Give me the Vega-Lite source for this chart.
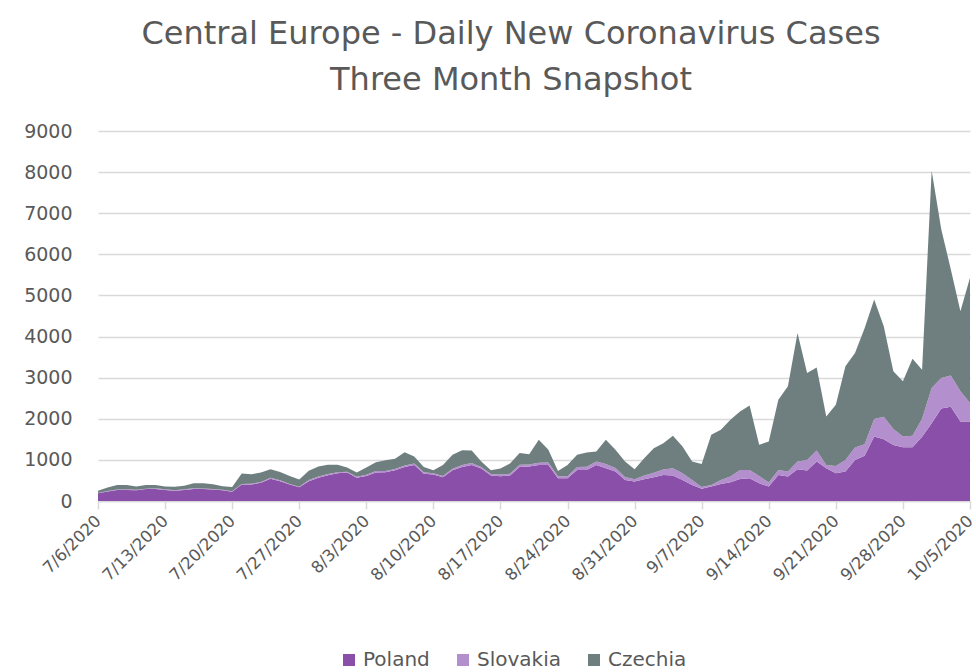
{
  "$schema": "https://vega.github.io/schema/vega-lite/v6.json",
  "width": 872,
  "height": 370,
  "autosize": {"type": "none"},
  "padding": {"left": 98, "top": 131, "right": 6, "bottom": 171},
  "background": "white",
  "title": {
    "text": ["Central Europe - Daily New Coronavirus Cases", "Three Month Snapshot"],
    "font": "DejaVu Sans",
    "fontSize": 32,
    "fontWeight": "normal",
    "color": "#595959",
    "lineHeight": 46,
    "anchor": "middle",
    "frame": "group",
    "baseline": "bottom",
    "dx": -23,
    "offset": -7
  },
  "data": {
    "values": [
      {"d": "2020-07-06", "Poland": 187, "Slovakia": 10, "Czechia": 55},
      {"d": "2020-07-07", "Poland": 230, "Slovakia": 15, "Czechia": 85},
      {"d": "2020-07-08", "Poland": 268, "Slovakia": 10, "Czechia": 112},
      {"d": "2020-07-09", "Poland": 268, "Slovakia": 20, "Czechia": 102},
      {"d": "2020-07-10", "Poland": 260, "Slovakia": 15, "Czechia": 75},
      {"d": "2020-07-11", "Poland": 290, "Slovakia": 10, "Czechia": 90},
      {"d": "2020-07-12", "Poland": 290, "Slovakia": 20, "Czechia": 80},
      {"d": "2020-07-13", "Poland": 270, "Slovakia": 15, "Czechia": 65},
      {"d": "2020-07-14", "Poland": 250, "Slovakia": 10, "Czechia": 85},
      {"d": "2020-07-15", "Poland": 270, "Slovakia": 15, "Czechia": 85},
      {"d": "2020-07-16", "Poland": 290, "Slovakia": 20, "Czechia": 121},
      {"d": "2020-07-17", "Poland": 290, "Slovakia": 15, "Czechia": 126},
      {"d": "2020-07-18", "Poland": 280, "Slovakia": 10, "Czechia": 120},
      {"d": "2020-07-19", "Poland": 260, "Slovakia": 15, "Czechia": 85},
      {"d": "2020-07-20", "Poland": 228, "Slovakia": 10, "Czechia": 102},
      {"d": "2020-07-21", "Poland": 400, "Slovakia": 15, "Czechia": 252},
      {"d": "2020-07-22", "Poland": 400, "Slovakia": 20, "Czechia": 230},
      {"d": "2020-07-23", "Poland": 442, "Slovakia": 20, "Czechia": 230},
      {"d": "2020-07-24", "Poland": 542, "Slovakia": 25, "Czechia": 208},
      {"d": "2020-07-25", "Poland": 483, "Slovakia": 20, "Czechia": 205},
      {"d": "2020-07-26", "Poland": 400, "Slovakia": 15, "Czechia": 193},
      {"d": "2020-07-27", "Poland": 333, "Slovakia": 15, "Czechia": 177},
      {"d": "2020-07-28", "Poland": 483, "Slovakia": 25, "Czechia": 225},
      {"d": "2020-07-29", "Poland": 567, "Slovakia": 30, "Czechia": 245},
      {"d": "2020-07-30", "Poland": 625, "Slovakia": 30, "Czechia": 228},
      {"d": "2020-07-31", "Poland": 675, "Slovakia": 25, "Czechia": 183},
      {"d": "2020-08-01", "Poland": 692, "Slovakia": 20, "Czechia": 105},
      {"d": "2020-08-02", "Poland": 567, "Slovakia": 20, "Czechia": 105},
      {"d": "2020-08-03", "Poland": 608, "Slovakia": 30, "Czechia": 179},
      {"d": "2020-08-04", "Poland": 692, "Slovakia": 35, "Czechia": 215},
      {"d": "2020-08-05", "Poland": 700, "Slovakia": 30, "Czechia": 260},
      {"d": "2020-08-06", "Poland": 746, "Slovakia": 30, "Czechia": 249},
      {"d": "2020-08-07", "Poland": 830, "Slovakia": 35, "Czechia": 321},
      {"d": "2020-08-08", "Poland": 873, "Slovakia": 40, "Czechia": 172},
      {"d": "2020-08-09", "Poland": 661, "Slovakia": 40, "Czechia": 129},
      {"d": "2020-08-10", "Poland": 644, "Slovakia": 30, "Czechia": 72},
      {"d": "2020-08-11", "Poland": 576, "Slovakia": 35, "Czechia": 262},
      {"d": "2020-08-12", "Poland": 746, "Slovakia": 40, "Czechia": 341},
      {"d": "2020-08-13", "Poland": 830, "Slovakia": 45, "Czechia": 362},
      {"d": "2020-08-14", "Poland": 873, "Slovakia": 50, "Czechia": 306},
      {"d": "2020-08-15", "Poland": 788, "Slovakia": 40, "Czechia": 130},
      {"d": "2020-08-16", "Poland": 619, "Slovakia": 35, "Czechia": 92},
      {"d": "2020-08-17", "Poland": 602, "Slovakia": 40, "Czechia": 146},
      {"d": "2020-08-18", "Poland": 619, "Slovakia": 45, "Czechia": 251},
      {"d": "2020-08-19", "Poland": 830, "Slovakia": 50, "Czechia": 289},
      {"d": "2020-08-20", "Poland": 840, "Slovakia": 45, "Czechia": 250},
      {"d": "2020-08-21", "Poland": 878, "Slovakia": 50, "Czechia": 560},
      {"d": "2020-08-22", "Poland": 878, "Slovakia": 60, "Czechia": 306},
      {"d": "2020-08-23", "Poland": 553, "Slovakia": 50, "Czechia": 129},
      {"d": "2020-08-24", "Poland": 553, "Slovakia": 50, "Czechia": 275},
      {"d": "2020-08-25", "Poland": 756, "Slovakia": 70, "Czechia": 296},
      {"d": "2020-08-26", "Poland": 756, "Slovakia": 80, "Czechia": 343},
      {"d": "2020-08-27", "Poland": 878, "Slovakia": 80, "Czechia": 245},
      {"d": "2020-08-28", "Poland": 797, "Slovakia": 100, "Czechia": 591},
      {"d": "2020-08-29", "Poland": 715, "Slovakia": 90, "Czechia": 439},
      {"d": "2020-08-30", "Poland": 512, "Slovakia": 70, "Czechia": 377},
      {"d": "2020-08-31", "Poland": 472, "Slovakia": 60, "Czechia": 240},
      {"d": "2020-09-01", "Poland": 528, "Slovakia": 90, "Czechia": 423},
      {"d": "2020-09-02", "Poland": 577, "Slovakia": 110, "Czechia": 598},
      {"d": "2020-09-03", "Poland": 634, "Slovakia": 130, "Czechia": 643},
      {"d": "2020-09-04", "Poland": 620, "Slovakia": 177, "Czechia": 793},
      {"d": "2020-09-05", "Poland": 512, "Slovakia": 163, "Czechia": 650},
      {"d": "2020-09-06", "Poland": 390, "Slovakia": 122, "Czechia": 447},
      {"d": "2020-09-07", "Poland": 300, "Slovakia": 40, "Czechia": 562},
      {"d": "2020-09-08", "Poland": 350, "Slovakia": 40, "Czechia": 1220},
      {"d": "2020-09-09", "Poland": 415, "Slovakia": 97, "Czechia": 1220},
      {"d": "2020-09-10", "Poland": 455, "Slovakia": 138, "Czechia": 1383},
      {"d": "2020-09-11", "Poland": 537, "Slovakia": 219, "Czechia": 1423},
      {"d": "2020-09-12", "Poland": 553, "Slovakia": 203, "Czechia": 1569},
      {"d": "2020-09-13", "Poland": 431, "Slovakia": 179, "Czechia": 756},
      {"d": "2020-09-14", "Poland": 350, "Slovakia": 97, "Czechia": 1000},
      {"d": "2020-09-15", "Poland": 634, "Slovakia": 122, "Czechia": 1707},
      {"d": "2020-09-16", "Poland": 593, "Slovakia": 122, "Czechia": 2074},
      {"d": "2020-09-17", "Poland": 772, "Slovakia": 187, "Czechia": 3130},
      {"d": "2020-09-18", "Poland": 740, "Slovakia": 260, "Czechia": 2114},
      {"d": "2020-09-19", "Poland": 959, "Slovakia": 271, "Czechia": 2020},
      {"d": "2020-09-20", "Poland": 797, "Slovakia": 81, "Czechia": 1179},
      {"d": "2020-09-21", "Poland": 675, "Slovakia": 179, "Czechia": 1487},
      {"d": "2020-09-22", "Poland": 720, "Slovakia": 280, "Czechia": 2276},
      {"d": "2020-09-23", "Poland": 1000, "Slovakia": 300, "Czechia": 2302},
      {"d": "2020-09-24", "Poland": 1100, "Slovakia": 280, "Czechia": 2820},
      {"d": "2020-09-25", "Poland": 1569, "Slovakia": 423, "Czechia": 2910},
      {"d": "2020-09-26", "Poland": 1500, "Slovakia": 550, "Czechia": 2202},
      {"d": "2020-09-27", "Poland": 1360, "Slovakia": 390, "Czechia": 1404},
      {"d": "2020-09-28", "Poland": 1309, "Slovakia": 260, "Czechia": 1342},
      {"d": "2020-09-29", "Poland": 1309, "Slovakia": 276, "Czechia": 1878},
      {"d": "2020-09-30", "Poland": 1560, "Slovakia": 440, "Czechia": 1195},
      {"d": "2020-10-01", "Poland": 1894, "Slovakia": 856, "Czechia": 5283},
      {"d": "2020-10-02", "Poland": 2250, "Slovakia": 740, "Czechia": 3620},
      {"d": "2020-10-03", "Poland": 2290, "Slovakia": 760, "Czechia": 2584},
      {"d": "2020-10-04", "Poland": 1935, "Slovakia": 732, "Czechia": 1951},
      {"d": "2020-10-05", "Poland": 1935, "Slovakia": 447, "Czechia": 3049}
    ]
  },
  "transform": [
    {"fold": ["Poland", "Slovakia", "Czechia"], "as": ["country", "cases"]},
    {"calculate": "indexof(['Poland','Slovakia','Czechia'], datum.country)", "as": "stackOrder"}
  ],
  "mark": {"type": "area", "interpolate": "linear"},
  "encoding": {
    "x": {
      "field": "d",
      "type": "temporal",
      "scale": {
        "type": "utc",
        "domain": [
          {"year": 2020, "month": 7, "date": 6, "utc": true},
          {"year": 2020, "month": 10, "date": 5, "utc": true}
        ],
        "nice": false
      },
      "axis": {
        "title": null,
        "values": [
          {"year": 2020, "month": 7, "date": 6, "utc": true},
          {"year": 2020, "month": 7, "date": 13, "utc": true},
          {"year": 2020, "month": 7, "date": 20, "utc": true},
          {"year": 2020, "month": 7, "date": 27, "utc": true},
          {"year": 2020, "month": 8, "date": 3, "utc": true},
          {"year": 2020, "month": 8, "date": 10, "utc": true},
          {"year": 2020, "month": 8, "date": 17, "utc": true},
          {"year": 2020, "month": 8, "date": 24, "utc": true},
          {"year": 2020, "month": 8, "date": 31, "utc": true},
          {"year": 2020, "month": 9, "date": 7, "utc": true},
          {"year": 2020, "month": 9, "date": 14, "utc": true},
          {"year": 2020, "month": 9, "date": 21, "utc": true},
          {"year": 2020, "month": 9, "date": 28, "utc": true},
          {"year": 2020, "month": 10, "date": 5, "utc": true}
        ],
        "format": "%-m/%-d/%Y",
        "labelAngle": -45,
        "labelAlign": "right",
        "labelBaseline": "middle",
        "labelFont": "DejaVu Sans",
        "labelFontSize": 16.5,
        "labelColor": "#595959",
        "labelPadding": 9,
        "labelOverlap": false,
        "labelFlush": false,
        "labelBound": false,
        "grid": false,
        "domain": true,
        "domainColor": "#d9d9d9",
        "domainWidth": 1.5,
        "ticks": true,
        "tickColor": "#d9d9d9",
        "tickWidth": 1.5,
        "tickSize": 8
      }
    },
    "y": {
      "field": "cases",
      "type": "quantitative",
      "stack": "zero",
      "scale": {"domain": [0, 9000], "nice": false},
      "axis": {
        "title": null,
        "values": [0, 1000, 2000, 3000, 4000, 5000, 6000, 7000, 8000, 9000],
        "format": "d",
        "labelFont": "DejaVu Sans",
        "labelFontSize": 19,
        "labelColor": "#595959",
        "labelPadding": 26,
        "ticks": false,
        "tickSize": 0,
        "domain": false,
        "grid": true,
        "gridColor": "#d9d9d9",
        "gridWidth": 1.5
      }
    },
    "order": {"field": "stackOrder", "type": "quantitative"},
    "color": {
      "field": "country",
      "type": "nominal",
      "scale": {
        "domain": ["Poland", "Slovakia", "Czechia"],
        "range": ["#8a4fa8", "#b48fcd", "#6f7f7f"]
      },
      "legend": {
        "title": null,
        "orient": "none",
        "legendX": 241,
        "legendY": 519,
        "direction": "horizontal",
        "symbolType": "square",
        "symbolSize": 144,
        "symbolStrokeWidth": 0,
        "labelFont": "DejaVu Sans",
        "labelFontSize": 20,
        "labelColor": "#595959",
        "labelOffset": 4,
        "columnPadding": 23
      }
    }
  },
  "config": {"view": {"stroke": null}}
}
